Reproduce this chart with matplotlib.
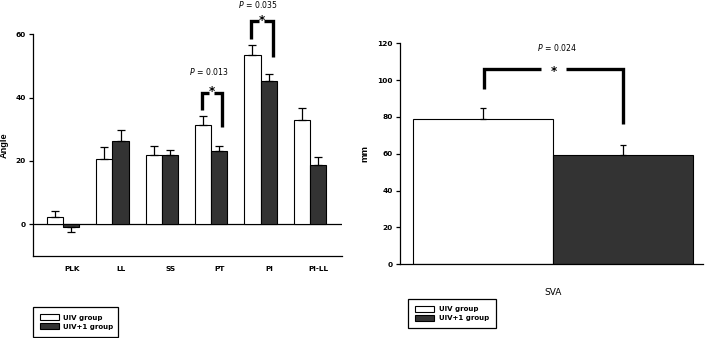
import numpy as np
import matplotlib
matplotlib.use('Agg')
import matplotlib.pyplot as plt
from matplotlib.patches import Patch

# dati
categories = ['PLK', 'LL', 'SS', 'PT', 'PI', 'PI-LL']
uiv_mean = [2.3, 20.6, 22.0, 31.4, 53.6, 32.9]
uiv_err = [1.9, 3.8, 2.6, 2.8, 3.1, 3.9]
uiv1_mean = [-1.0, 26.2, 22.0, 23.2, 45.3, 18.8]
uiv1_err = [1.5, 3.7, 1.6, 1.5, 2.2, 2.6]

sva_labels = ['UIV group', 'UIV+1 group']
sva_mean = [78.7, 59.5]
sva_err = [6.3, 5.3]

pvals_left = {'PT': '0.013', 'PI': '0.035'}
pval_sva = '0.024'

WHITE = '#ffffff'
DARK = '#333333'
TICK = dict(family='DejaVu Sans', weight='bold', size=5.3)

plt.rcParams['font.family'] = ['DejaVu Sans']
plt.rcParams['mathtext.fontset'] = 'dejavusans'

fig = plt.figure(figsize=(7.08, 3.38), dpi=100)

# ---- pannello sinistro: angoli ----
ax1 = fig.add_axes([0.0466, 0.2426, 0.4364, 0.6559])
x = np.arange(len(categories))
w = 0.33
ax1.bar(x - w / 2, uiv_mean, w, color=WHITE, edgecolor='black', linewidth=0.8, zorder=2)
ax1.bar(x + w / 2, uiv1_mean, w, color=DARK, edgecolor='black', linewidth=0.8, zorder=2)

# barre di errore solo verso l'esterno
for xs, m, e in [(x - w / 2, uiv_mean, uiv_err), (x + w / 2, uiv1_mean, uiv1_err)]:
    for xi, mi, ei in zip(xs, m, e):
        yerr = [[0], [ei]] if mi >= 0 else [[ei], [0]]
        ax1.errorbar(xi, mi, yerr=yerr, fmt='none', ecolor='black', elinewidth=0.9,
                     capsize=2.6, capthick=0.9, zorder=3)

ax1.axhline(0, color='black', linewidth=0.9, zorder=1)
ax1.set_xlim(-0.61, 5.65)
ax1.set_ylim(-10, 60)
ax1.set_yticks([0, 20, 40, 60])
ax1.set_yticklabels(['0', '20', '40', '60'], **TICK)
ax1.set_xticks(x + 0.18)
ax1.set_xticklabels(categories, **TICK)
ax1.tick_params(axis='x', length=0, pad=7)
ax1.tick_params(axis='y', length=3, width=0.9, pad=2)
ax1.set_ylabel('Angle', fontsize=6.6, labelpad=5, family='Liberation Sans', weight='bold')
for s in ['top', 'right']:
    ax1.spines[s].set_visible(False)
for s in ['left', 'bottom']:
    ax1.spines[s].set_linewidth(0.9)


def bracket(ax, x0, x1, ytop, yl, yr, gap, star_y, lw=2.4):
    xm = (x0 + x1) / 2
    ax.plot([x0, x0, xm - gap], [yl, ytop, ytop], color='black', lw=lw,
            solid_capstyle='butt', solid_joinstyle='miter', clip_on=False, zorder=4)
    ax.plot([xm + gap, x1, x1], [ytop, ytop, yr], color='black', lw=lw,
            solid_capstyle='butt', solid_joinstyle='miter', clip_on=False, zorder=4)
    ax.text(xm, star_y, '*', ha='center', va='center', fontsize=8.5,
            fontweight='bold', clip_on=False)


i = categories.index('PT')
bracket(ax1, i - 0.19, i + 0.21, 41.5, 36.0, 30.8, 0.05, 41.8)
ax1.text(i - 0.04, 48.4, '$P$ = ' + pvals_left['PT'], ha='center', va='center',
         fontsize=5.6, clip_on=False)
i = categories.index('PI')
bracket(ax1, i - 0.2, i + 0.245, 64.2, 58.4, 52.7, 0.05, 64.5)
ax1.text(i - 0.05, 69.3, '$P$ = ' + pvals_left['PI'], ha='center', va='center',
         fontsize=5.6, clip_on=False)

handles = [Patch(facecolor=WHITE, edgecolor='black', linewidth=0.8),
           Patch(facecolor=DARK, edgecolor='black', linewidth=0.8)]
leg_kw = dict(loc='lower left', mode='expand', fancybox=False, edgecolor='black',
              framealpha=1, prop=dict(family='DejaVu Sans', weight='bold', size=5),
              handlelength=2.75, handleheight=0.95, handletextpad=0.6,
              labelspacing=0.4, borderpad=1.0, borderaxespad=0)
leg1 = fig.legend(handles, sva_labels,
                  bbox_to_anchor=(32.7 / 708, 1 - 336.7 / 338, 85.6 / 708, 33.4 / 338),
                  **leg_kw)
leg1.get_frame().set_linewidth(0.9)

# ---- pannello destro: SVA ----
ax2 = fig.add_axes([0.5645, 0.218, 0.4289, 0.654])
xs = np.array([-0.5, 0.5])
ax2.bar(xs, sva_mean, 1.0, color=[WHITE, DARK], edgecolor='black', linewidth=0.8, zorder=2)
ax2.errorbar(xs, sva_mean, yerr=[[0, 0], sva_err], fmt='none', ecolor='black',
             elinewidth=0.9, capsize=2.4, capthick=0.9, zorder=3)
ax2.set_xlim(-1.093, 1.076)
ax2.set_ylim(0, 120)
ax2.set_yticks(np.arange(0, 121, 20))
ax2.set_yticklabels([str(v) for v in range(0, 121, 20)], **TICK)
ax2.set_xticks([0])
ax2.set_xticklabels(['SVA'], fontsize=6.5)
ax2.tick_params(axis='x', length=0, pad=17)
ax2.tick_params(axis='y', length=3, width=0.9, pad=2)
ax2.set_ylabel('mm', fontsize=6.8, labelpad=6, family='Liberation Sans', weight='bold')
for s in ['top', 'right']:
    ax2.spines[s].set_visible(False)
for s in ['left', 'bottom']:
    ax2.spines[s].set_linewidth(0.9)

bracket(ax2, -0.49, 0.5, 106.0, 95.0, 76.2, 0.09, 104.8)
ax2.text(0.03, 117.6, '$P$ = ' + pval_sva, ha='center', va='center',
         fontsize=5.6, clip_on=False)

leg2 = fig.legend(handles, sva_labels,
                  bbox_to_anchor=(408.3 / 708, 1 - 328.3 / 338, 87.7 / 708, 33.6 / 338),
                  **leg_kw)
leg2.get_frame().set_linewidth(0.9)

fig.savefig('out.png', dpi=100)
